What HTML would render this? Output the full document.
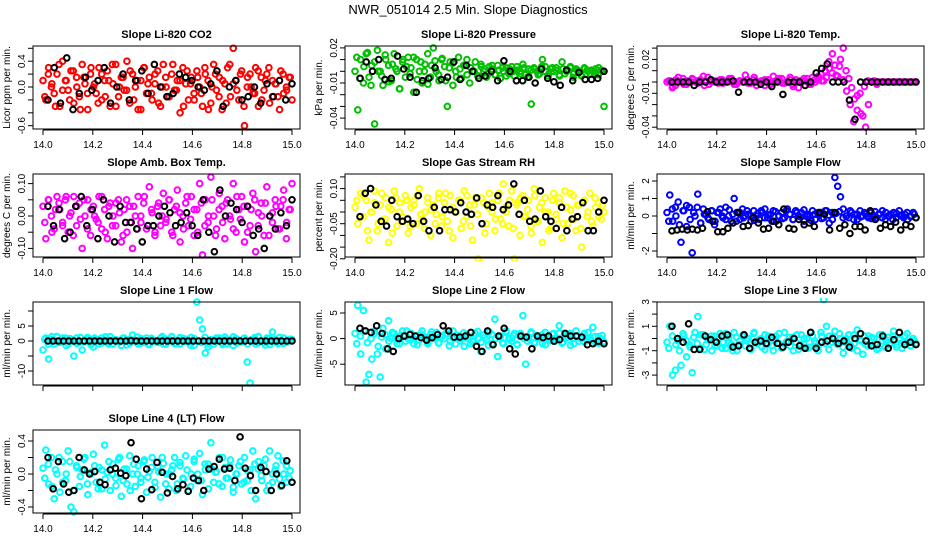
<!DOCTYPE html>
<html><head><meta charset="utf-8">
<style>
html,body{margin:0;padding:0;background:#fff;}
svg{display:block;font-family:"Liberation Sans",sans-serif;}
</style></head>
<body>
<svg id="chart" width="936" height="540" viewBox="0 0 936 540" xmlns="http://www.w3.org/2000/svg">
<rect x="0" y="0" width="936" height="540" fill="#fff"/>
<text x="468" y="14" font-size="13" text-anchor="middle">NWR_051014  2.5 Min. Slope Diagnostics</text>
</svg>
<script>
// x axis (time) ticks
const xTicks = [14.0, 14.2, 14.4, 14.6, 14.8, 15.0];
const xTickLabels = ["14.0", "14.2", "14.4", "14.6", "14.8", "15.0"];

// Panel 1: Li-820 CO2
const co2Color = [0.1,-0.2,0.3,0.0,-0.1,0.2,-0.3,0.4,0.1,-0.05,0.25,-0.25,0.15,-0.15,0.35,0.05,-0.35,0.2,0.0,-0.1,0.3,-0.2,0.1,0.25,-0.3,0.05,0.35,-0.15,0.15,-0.05,0.4,-0.25,0.2,0.0,-0.35,0.1,0.3,-0.1,0.15,-0.2,0.05,0.25,-0.3,0.35,0.0,-0.15,0.2,-0.05,0.1,-0.4,0.3,0.05,-0.2,0.15,-0.1,0.25,0.0,-0.3,0.2,0.1,-0.25,0.35,-0.05,0.15,-0.35,0.05,0.3,-0.15,0.6,0.1,-0.2,0.25,-0.6,0.0,0.2,-0.1,0.3,-0.3,0.15,-0.05,0.2,-0.25,0.1,0.05,-0.15,0.25,-0.1,0.0,0.15,-0.2];
const co2Color2 = [-0.15,0.2,0.05,-0.3,0.35,-0.05,0.1,-0.2,0.25,0.0,-0.35,0.15,-0.1,0.3,0.05,-0.25,0.2,-0.15,0.1,0.35,-0.3,0.0,0.15,-0.05,0.25,-0.2,0.1,-0.35,0.3,0.05,-0.1,0.2,-0.25,0.0,0.15,-0.15,0.35,-0.05,0.1,-0.3,0.25,0.05,-0.2,0.15,-0.1,0.3,-0.35,0.0,0.2,-0.15,0.1,-0.25,0.35,0.05,-0.05,0.2,-0.3,0.15,0.0,-0.1,0.25,-0.2,0.1,0.3,-0.15,0.05,-0.35,0.2,-0.05,0.15];
const co2Black = [-0.2,0.3,-0.25,0.45,-0.35,-0.1,0.15,-0.05,0.1,0.3,-0.25,0.0,0.2,-0.2,0.1,0.25,-0.1,0.35,0.0,-0.15,-0.1,0.2,0.15,0.1,0.0,-0.05,0.05,0.25,-0.3,0.0,0.1,-0.2,-0.15,0.0,-0.25,0.05,-0.15,0.1,-0.2,0.05];
const co2Ticks = [0.6,0.4,0.2,0.0,-0.2,-0.4,-0.6];
const co2Labels = [[0.4,"0.4"],[0.0,"0.0"],[-0.6,"-0.6"]];

// Panel 2: Li-820 Pressure
const presColor = [0.0,-0.033,0.01,-0.01,0.015,-0.005,0.005,-0.045,0.018,0.0,-0.012,0.01,0.005,-0.008,0.015,0.0,-0.015,0.008,-0.005,0.012,0.003,-0.018,0.01,0.0,-0.01,0.006,0.015,-0.005,0.02,0.0,-0.008,0.01,0.004,-0.03,0.008,-0.012,0.0,0.012,-0.006,0.005,0.01,-0.01,0.0,0.008,-0.004,0.006,0.0,-0.005,0.004,0.002,-0.003,0.005,-0.006,0.0,0.003,-0.002,0.004,-0.004,0.001,0.0,0.006,-0.003,0.002,-0.028,0.003,0.0,-0.002,0.01,0.004,-0.004,0.002,0.0,0.003,-0.003,0.008,-0.002,0.001,0.004,-0.005,0.002,0.0,-0.004,0.003,0.001,-0.002,0.0,0.002,-0.003,0.001,-0.03];
const presColor2 = [0.012,-0.006,0.004,0.016,-0.012,0.008,0.0,-0.004,0.014,-0.009,0.006,0.002,-0.015,0.01,0.004,-0.002,0.012,-0.007,0.008,0.0,-0.011,0.005,0.009,-0.003,0.011,-0.008,0.003,0.007,-0.005,0.002,0.005,-0.003,0.003,0.0,-0.004,0.004,0.002,-0.002,0.005,-0.003,0.001,0.003,-0.004,0.002,0.0,0.004,-0.002,0.003,-0.005,0.001,0.002,-0.003,0.004,0.0,-0.002,0.003,0.001,-0.004,0.002,0.0,0.003,-0.002,0.001,-0.003,0.002,0.0,0.001,-0.002,0.003,0.0];
const presBlack = [-0.006,0.008,0.0,0.01,-0.007,-0.006,0.013,0.002,-0.005,-0.018,-0.008,-0.006,0.003,-0.007,-0.005,0.008,-0.007,0.005,0.0,-0.006,-0.004,0.0,-0.008,0.009,0.0,-0.008,-0.008,-0.005,-0.01,0.002,-0.006,-0.009,-0.012,0.001,-0.008,-0.001,-0.007,-0.007,-0.006,0.0];
const presTicks = [0.02,0.01,0.0,-0.01,-0.02,-0.03,-0.04];
const presLabels = [[0.02,"0.02"],[-0.01,"-0.01"],[-0.04,"-0.04"]];

// Panel 3: Li-820 Temp
const tempColor = [0,0.001,-0.004,-0.003,0.004,0,-0.002,0.001,0,0.003,0,-0.001,0.002,0.005,0,-0.002,0.001,0,0,0.002,-0.001,0,0.001,0.003,-0.002,0,0.001,0,0.006,-0.001,0,0.002,-0.003,0,0.001,0.002,0,-0.002,0.005,0,0.001,0.003,-0.001,0,0.004,-0.002,0.002,-0.005,0,0.001,0.003,-0.002,0.004,0,0.002,0.007,0.001,0.004,0.012,0.008,0.015,0.005,0.02,0.03,0.01,0.003,-0.005,-0.015,-0.025,-0.01,-0.03,-0.04,-0.02,0.0,0.001,-0.002,0,0,0,0,0,0,0,0,0,0,0,0,0,0];
const tempColor2 = [0.001,-0.005,0.002,0,0.003,-0.002,0,0.002,0.001,0,-0.003,0.004,0,0.001,-0.001,0.002,0,0.003,0,-0.002,0.001,0,0.002,-0.001,0.004,0,0.001,-0.003,0.002,0,0.001,0.003,-0.001,0,0.002,-0.004,0,0.001,0.003,0,-0.002,0.002,0.005,0.001,0.01,0.018,0.025,0.006,0.014,0.002,-0.008,-0.02,-0.035,-0.012,-0.028,-0.004,0.001,0,0,0,0,0,0,0,0,0,0,0,0,0];
const tempBlack = [0,0,0,0,-0.003,0,0,0.002,0,0,0,0.001,-0.009,0,0,0,-0.002,0,-0.004,0,-0.011,0,0,0,-0.003,0,0.008,0.012,0.016,0,0,0,-0.016,-0.033,0,0,0,0,0,0,0,0,0,0,0];
const tempTicks = [0.03,0.02,0.01,0.0,-0.01,-0.02,-0.03,-0.04];
const tempLabels = [[0.02,"0.02"],[-0.01,"-0.01"],[-0.04,"-0.04"]];

// Panel 4: Amb. Box Temp
const boxColor = [0.03,-0.07,0.05,0.0,-0.04,0.06,0.02,-0.02,0.05,-0.05,0.01,0.06,-0.03,0.04,-0.1,0.0,0.05,-0.06,0.03,-0.01,0.06,-0.04,0.02,-0.07,0.04,0.0,-0.03,0.05,-0.08,0.02,-0.05,0.03,-0.1,0.0,0.06,-0.02,0.04,-0.04,0.09,0.01,-0.06,0.03,-0.03,0.07,-0.01,0.05,-0.05,0.02,0.08,-0.08,0.0,0.04,-0.03,0.06,-0.06,0.02,0.1,-0.12,0.05,-0.02,0.12,0.0,-0.04,0.07,0.03,-0.07,0.05,-0.01,0.1,-0.05,0.02,0.06,-0.08,0.03,-0.03,0.07,-0.11,0.01,0.04,-0.06,0.09,0.0,-0.02,0.05,-0.04,0.03,0.08,-0.07,0.02,0.1];
const boxColor2 = [-0.02,0.05,-0.05,0.02,0.04,-0.03,0.06,0.0,-0.06,0.03,-0.01,0.05,-0.04,0.02,0.0,-0.02,0.06,-0.05,0.03,-0.03,0.04,0.01,-0.06,0.05,-0.02,0.03,-0.04,0.0,0.06,-0.03,0.02,-0.05,0.04,0.0,-0.02,0.05,-0.06,0.03,0.01,-0.04,0.06,-0.01,0.02,-0.05,0.04,-0.03,0.0,0.05,-0.06,0.02,-0.02,0.04,0.0,-0.04,0.06,-0.01,0.03,-0.05,0.02,0.05,-0.03,0.0,0.04,-0.06,0.01,0.03,-0.04,0.05,-0.02,0.02];
const boxBlack = [0.03,-0.03,0.02,-0.07,-0.05,0.03,0.06,-0.03,0.02,-0.07,0.05,0.0,-0.08,0.03,-0.02,-0.02,-0.04,-0.08,-0.03,-0.03,0.0,0.03,0.01,-0.03,-0.02,0.01,-0.03,-0.06,0.05,-0.05,-0.11,0.08,0.0,0.04,0.02,-0.02,0.03,-0.06,-0.04,-0.1,0.0,-0.04,0.01,-0.03,0.05];
const boxTicks = [0.10,0.05,0.0,-0.05,-0.10];
const boxLabels = [[0.10,"0.10"],[0.0,"0.00"],[-0.10,"-0.10"]];

// Panel 5: Gas Stream RH
const rhColor = [0.02,-0.05,0.08,-0.02,0.05,-0.12,0.0,0.09,-0.08,0.03,-0.04,0.06,-0.13,0.01,0.09,-0.06,0.04,-0.02,0.07,-0.09,0.02,0.05,-0.05,0.1,-0.03,0.0,0.06,-0.1,0.03,-0.01,0.08,-0.06,0.04,-0.04,0.07,-0.11,0.0,0.05,-0.07,0.09,-0.02,0.03,-0.12,0.06,-0.2,-0.22,0.04,-0.05,0.08,0.0,-0.08,0.05,-0.03,0.12,0.02,-0.06,0.09,-0.2,0.04,-0.1,0.07,-0.02,0.05,-0.09,0.1,-0.04,0.02,-0.13,0.06,0.0,-0.07,0.08,-0.03,0.04,-0.11,0.09,-0.05,0.01,0.07,-0.08,0.03,-0.15,0.05,-0.02,0.08,-0.06,0.02,0.04,-0.03,0.0];
const rhColor2 = [0.05,-0.02,0.07,-0.08,0.0,0.04,-0.05,0.08,-0.03,0.02,-0.09,0.06,0.0,-0.04,0.05,-0.06,0.03,0.07,-0.01,-0.07,0.04,0.01,-0.05,0.06,-0.02,0.08,-0.08,0.02,0.0,0.05,-0.04,0.07,-0.06,0.03,-0.01,0.06,-0.09,0.02,0.04,-0.03,0.08,-0.05,0.0,0.05,-0.07,0.03,0.06,-0.02,0.01,-0.06,0.07,-0.04,0.04,0.0,-0.08,0.05,-0.01,0.06,-0.05,0.02,0.08,-0.03,0.03,-0.07,0.05,0.0,-0.04,0.06,-0.02,0.03];
const rhBlack = [-0.02,0.08,0.1,0.03,-0.04,-0.06,0.05,-0.02,-0.04,-0.03,-0.05,0.07,-0.04,-0.08,0.02,-0.08,0.01,0.01,0.0,0.04,0.0,-0.01,0.06,-0.05,0.03,0.02,0.07,0.01,0.03,0.12,-0.01,0.05,-0.04,-0.03,0.09,-0.02,-0.04,-0.07,0.02,-0.08,-0.03,-0.02,0.04,-0.08,-0.08,0.0,0.05];
const rhTicks = [0.15,0.10,0.05,0.0,-0.05,-0.10,-0.15,-0.20];
const rhLabels = [[0.10,"0.10"],[-0.05,"-0.05"],[-0.20,"-0.20"]];

// Panel 6: Sample Flow
const sampColor = [0.2,1.2,-0.3,0.5,0.8,-1.5,0.3,-0.6,0.5,-2.1,0.0,1.25,-0.4,0.4,0.1,-0.2,0.3,-0.5,0.2,0.4,-0.1,0.5,0.0,-0.3,1.0,0.2,-0.2,0.4,0.0,0.1,-0.3,0.3,0.0,-0.2,0.2,0.4,-0.1,0.1,0.3,-0.3,0.0,0.2,-0.1,0.4,0.1,-0.2,0.3,0.0,0.2,-0.3,0.1,0.0,0.3,-0.2,0.1,0.2,-0.1,0.3,-0.4,0.2,2.2,1.7,1.1,0.4,0.0,-0.1,0.2,0.1,-0.2,0.3,0.0,0.1,-0.1,0.2,0.0,-0.1,0.1,0.3,-0.2,0.0,0.1,0.2,-0.1,0.3,0.0,0.1,-0.2,0.0,0.2,-0.1];
const sampColor2 = [-0.3,0.4,0.0,-0.5,0.3,0.6,-0.2,0.2,0.5,-0.4,0.1,-0.1,0.3,-0.3,0.2,0.0,-0.2,0.35,0.1,-0.3,0.2,-0.1,0.3,0.0,-0.25,0.15,0.3,-0.1,0.05,-0.3,0.25,0.0,-0.15,0.3,0.1,-0.2,0.2,-0.05,0.35,0.0,-0.25,0.1,0.2,-0.15,0.3,0.05,-0.2,0.15,0.25,-0.1,0.0,0.3,-0.2,0.1,-0.05,0.2,0.0,-0.15,0.25,0.1,-0.1,0.2,0.0,-0.2,0.15,0.05,-0.1,0.2,-0.05,0.1];
const sampBlack = [-0.85,-0.8,-0.75,-0.8,-0.75,-0.8,-0.7,0.25,-0.3,-0.9,-0.9,-0.7,-0.4,0.2,-0.6,-0.55,-0.1,-0.4,-0.75,-0.7,-0.3,-0.5,0.4,-0.7,-0.75,-0.2,-0.5,-0.4,-0.6,0.2,0.1,-0.8,0.2,-0.7,-0.5,-1.0,-0.6,-0.6,-0.8,0.3,-0.2,-0.7,-0.5,-0.6,-0.35,-0.8,-0.5,-0.6,-0.1];
const sampTicks = [2,1,0,-1,-2];
const sampLabels = [[2,"2"],[1,"1"],[0,"0"],[-2,"-2"]];

// Panel 7: Line 1 Flow
const l1Color = [-3,1,-6,0.5,-1,1.5,-0.5,0,1,-1,0.5,-5,1,-0.5,-3,0,1.2,-0.8,-2,0.5,-1,1,0,-0.5,1.5,-1,0.5,0,-1.5,1,0.3,-0.7,2,0,-1,0.8,-0.3,1,-1.2,0.5,0,-0.5,1,-1,0.6,0,1.5,-0.8,0.2,-1,0.9,0,-0.4,1.2,-1.5,13,7,4,-4,-2,0.5,-1,1,0,-0.6,1.3,-0.9,0.4,-1.5,0.8,0,-0.3,1,-7,-14,0.5,-1,1.5,0,-0.5,1,-1.2,3,0.6,-0.8,0.2,1,-0.4,0,0.5];
const l1Color2 = [0.5,-1,1.5,0,-0.5,1,-1.5,0.8,0,-0.8,1.2,-0.3,0.5,-1.2,1,0,-0.6,1.4,-1,0.3,0,-0.4,1,-1.3,0.6,0,1.3,-0.7,0.2,-1,0.9,0,-0.5,1.5,-1.1,0.4,0,-0.8,1.1,-0.2,0.6,-1.4,0.8,0,-0.5,1.2,-0.9,0.3,0,1,-1.2,0.5,-0.3,1.4,-0.7,0,0.8,-1,0.4,1.1,-0.6,0,-1.3,0.9,0.2,-0.4,1.2,-0.8,0,0.6];
const l1Black = [0,0,0,0,0,0,0,0,0,0,0,0,0,0,0,0,0.1,0,0,0,0,0,0,0,0,0,0,0,0,0,0,0,0,0,0,0,0,0,0,0,0,0,0,0,0,0,0,0];
const l1Ticks = [10,5,0,-5,-10];
const l1Labels = [[5,"5"],[0,"0"],[-10,"-10"]];

// Panel 8: Line 2 Flow
const l2Color = [1,6.5,-3,5.5,-8.5,-7,-4,1.5,-3,-7.5,2,-2,3.5,0,1,-1,0.5,1.5,-0.5,0,1,-1,0.5,-0.3,1.5,0,-1,0.8,0,1.2,-0.8,0.4,0,1,-0.5,1.5,-1,0.3,0,-1.5,0.8,0.3,-0.6,1,0,-2.5,0.7,-0.2,1.3,-1,3.8,-3.5,0.5,-1,1.5,0,-0.5,1,-1.2,0.4,4.5,-5,0,1,-0.8,0.6,0,-1,1.2,0.3,-0.4,1,0,2.5,-0.9,0.5,0.8,-1.3,0,1.5,-0.5,0.2,1,-0.3,0,2.2,-0.8,0.4,0,-0.6];
const l2Color2 = [-1,0.5,1.5,-0.8,0,1,-1.5,0.3,0.8,-0.5,1.2,0,-1,0.6,1.5,-0.3,0,-1.2,0.9,0.4,-0.6,1.3,0,-0.9,0.5,1,-1.4,0.2,0.7,-0.4,1.1,0,-1,0.5,1.4,-0.7,0.2,-1.3,0.8,0,0.4,-0.8,1.2,-0.2,0.6,-1.1,1,0,-0.5,1.3,-0.9,0.3,0.7,-1.2,0,0.9,-0.4,1.1,-0.7,0.2,1,-1,0.5,0,-0.6,1.2,-0.3,0.4,-0.9,0.6];
const l2Black = [2,1.5,1.2,2.5,1,-2,-2.5,0,0.5,0.8,0.5,0.2,-0.3,0.2,0.8,2.5,1.5,0.3,0.3,0.5,1.2,-1.5,-2.5,1.5,-1.2,0.5,2,-2,-3,0.5,0.3,-2,0.5,0.2,0.5,-0.5,-0.2,1,0.5,0.5,0.3,-1.2,-1,-0.5,-1];
const l2Ticks = [5,0,-5];
const l2Labels = [[5,"5"],[0,"0"],[-5,"-5"]];

// Panel 9: Line 3 Flow
const l3Color = [-0.3,1.0,-3,-2.6,-0.2,-2.2,0.2,-1.5,-0.5,-2.8,0.5,1.8,-0.8,0.3,-0.5,0,-1,0.2,-0.6,0.4,-0.3,-0.8,0.1,-0.5,0.5,-1,-0.2,0.2,-0.6,0,-0.9,0.4,-0.4,-0.1,-0.7,0.3,-0.5,0,-1,0.2,-0.4,-0.8,0.5,-0.2,-0.6,0.1,-0.3,-0.9,0.3,-0.5,0,-0.7,0.2,-0.4,-1,0.5,3.2,1,0.2,-0.3,0.6,-0.5,0,-1.2,-0.2,0.3,-0.8,-0.4,0.7,-0.1,-1.3,-0.5,0.2,-0.6,0,-0.9,0.3,-0.2,-0.7,0.1,-0.4,0.6,-0.5,-0.1,-0.8,0.2,-0.3,-0.6,0,-0.4];
const l3Color2 = [-0.8,0.2,-0.5,-1,0.4,-0.2,-0.7,0.1,-0.4,0.3,-0.9,-0.1,0.2,-0.6,0,-0.8,0.4,-0.3,-1,0.1,-0.5,0.3,-0.2,-0.8,0.5,-0.4,0,-0.9,0.2,-0.6,-0.1,0.4,-0.7,-0.3,0.1,-1,0.3,-0.5,0,-0.8,0.5,-0.2,-0.6,0.2,-0.4,-0.9,0.1,-0.3,0.4,-0.7,0,-0.5,0.3,-1,-0.2,0.2,-0.6,0.1,-0.4,-0.8,0.3,-0.1,-0.5,0.2,-0.7,0,-0.3,0.4,-0.6,-0.2];
const l3Black = [1,0.0,-0.3,1.2,-0.9,-0.9,0.2,-0.1,-0.3,0.2,0.3,-0.7,-0.6,0.3,-0.8,-0.3,-0.2,-0.4,0.1,-0.4,-0.7,-0.3,0.0,-0.6,-0.8,0.5,-0.8,-0.3,-0.2,0.0,-0.4,-0.2,-0.7,0.0,0.4,-0.2,-0.6,-0.5,0.2,-0.8,-0.1,0.5,-0.5,-0.3,-0.5];
const l3Ticks = [3,2,1,0,-1,-2,-3];
const l3Labels = [[3,"3"],[1,"1"],[-1,"-1"],[-3,"-3"]];

// Panel 10: Line 4 (LT) Flow
const l4Color = [0.07,0.29,-0.12,0.2,-0.3,0.0,-0.22,0.15,-0.08,0.28,-0.4,-0.46,0.1,-0.15,0.05,0.2,-0.25,0.0,0.24,-0.1,0.08,-0.18,0.35,0.02,-0.2,0.12,-0.05,0.18,-0.27,0.06,-0.12,0.22,0.0,-0.15,0.1,-0.05,0.15,-0.22,0.03,0.2,-0.1,0.08,-0.28,0.13,0.0,-0.18,0.05,0.2,-0.12,0.1,-0.05,0.22,-0.2,0.0,0.15,-0.08,0.25,-0.25,0.05,0.12,0.38,-0.1,0.03,0.2,-0.15,0.08,-0.05,0.17,-0.22,0.0,0.1,-0.12,0.2,-0.08,0.05,0.28,-0.3,0.15,-0.02,0.1,-0.2,0.28,-0.1,0.05,0.22,-0.15,0.0,0.1,-0.05,-0.1];
const l4Color2 = [-0.05,0.12,-0.15,0.05,0.2,-0.1,0.0,0.15,-0.2,0.08,-0.03,0.18,-0.12,0.02,0.1,-0.18,0.05,-0.06,0.15,0.0,-0.14,0.2,-0.08,0.06,-0.2,0.12,0.0,-0.1,0.17,-0.04,0.08,-0.16,0.03,0.2,-0.12,0.0,0.1,-0.2,0.14,-0.06,0.05,-0.15,0.18,0.0,-0.08,0.12,-0.18,0.06,0.02,-0.12,0.2,-0.05,0.1,-0.16,0.0,0.15,-0.1,0.04,-0.2,0.12,0.06,-0.08,0.18,-0.14,0.0,0.1,-0.06,0.16,-0.1,0.04];
const l4Black = [0.2,-0.18,0.15,-0.12,-0.22,-0.2,0.2,0.05,0.0,0.03,-0.1,-0.13,0.05,0.07,0.01,-0.02,0.38,0.18,-0.3,0.06,-0.19,0.14,0.02,-0.23,-0.03,-0.18,-0.13,-0.21,-0.05,-0.08,-0.2,0.06,0.09,0.18,0.06,0.07,-0.08,0.45,0.07,-0.02,-0.2,0.08,0.03,-0.2,0.0,-0.14,0.16,-0.1];
const l4Ticks = [0.4,0.2,0.0,-0.2,-0.4];
const l4Labels = [[0.4,"0.4"],[0.0,"0.0"],[-0.4,"-0.4"]];

const NS = "http://www.w3.org/2000/svg";
const svg = document.getElementById("chart");
function mk(tag, attrs, parent){
  const e = document.createElementNS(NS, tag);
  for (const k in attrs) e.setAttribute(k, attrs[k]);
  (parent||svg).appendChild(e);
  return e;
}

const panels = [
  {key:"co2", title:"Slope Li-820 CO2", ylab:"Licor ppm per min.", color:"#ff0000", col:0,row:0, zero:41, step:0.2, stepPx:12.9, colorVals:co2Color, colorVals2:co2Color2, blackVals:co2Black, ticks:co2Ticks, labels:co2Labels, xl:true},
  {key:"pressure", title:"Slope Li-820 Pressure", ylab:"kPa per min.", color:"#00c000", col:1,row:0, zero:25.3, step:0.01, stepPx:11.7, colorVals:presColor, colorVals2:presColor2, blackVals:presBlack, ticks:presTicks, labels:presLabels, xl:true},
  {key:"temp", title:"Slope Li-820 Temp.", ylab:"degrees C per min.", color:"#ff00ff", col:2,row:0, zero:36, step:0.01, stepPx:11.3, colorVals:tempColor, colorVals2:tempColor2, blackVals:tempBlack, ticks:tempTicks, labels:tempLabels, xl:true},
  {key:"box-temp", title:"Slope Amb. Box Temp.", ylab:"degrees C per min.", color:"#ff00ff", col:0,row:1, zero:42, step:0.05, stepPx:16.2, colorVals:boxColor, colorVals2:boxColor2, blackVals:boxBlack, ticks:boxTicks, labels:boxLabels, xl:true},
  {key:"rh", title:"Slope Gas Stream RH", ylab:"percent per min.", color:"#ffff00", col:1,row:1, zero:38, step:0.05, stepPx:11.7, colorVals:rhColor, colorVals2:rhColor2, blackVals:rhBlack, ticks:rhTicks, labels:rhLabels, xl:true},
  {key:"sample-flow", title:"Slope Sample Flow", ylab:"ml/min per min.", color:"#0000ff", col:2,row:1, zero:42, step:1, stepPx:17.5, colorVals:sampColor, colorVals2:sampColor2, blackVals:sampBlack, ticks:sampTicks, labels:sampLabels, xl:true},
  {key:"line1", title:"Slope Line 1 Flow", ylab:"ml/min per min.", color:"#00ffff", col:0,row:2, zero:39, step:5, stepPx:15, colorVals:l1Color, colorVals2:l1Color2, blackVals:l1Black, ticks:l1Ticks, labels:l1Labels, xl:false},
  {key:"line2", title:"Slope Line 2 Flow", ylab:"ml/min per min.", color:"#00ffff", col:1,row:2, zero:36.6, step:5, stepPx:25.6, colorVals:l2Color, colorVals2:l2Color2, blackVals:l2Black, ticks:l2Ticks, labels:l2Labels, xl:false},
  {key:"line3", title:"Slope Line 3 Flow", ylab:"ml/min per min.", color:"#00ffff", col:2,row:2, zero:36.5, step:1, stepPx:12.2, colorVals:l3Color, colorVals2:l3Color2, blackVals:l3Black, ticks:l3Ticks, labels:l3Labels, xl:false},
  {key:"line4", title:"Slope Line 4 (LT) Flow", ylab:"ml/min per min.", color:"#00ffff", col:0,row:3, zero:44, step:0.1, stepPx:8.25, colorVals:l4Color, colorVals2:l4Color2, blackVals:l4Black, ticks:l4Ticks, labels:l4Labels, xl:true}
];

panels.forEach(p => {
  const left = 33 + p.col*312, right = left + 267;
  const top = 46 + p.row*128, bottom = top + 83;
  const g = mk("g", {});
  
  
  const xs = v => left + 10 + (v - 14.0) * 249;
  const ys = v => top + p.zero - (v / p.step) * p.stepPx;
  const clipId = "clip-" + p.key;
  const cp = mk("clipPath", {id: clipId}, g);
  mk("rect", {x:left-4, y:top-4, width:275, height:91}, cp);

  const t = mk("text", {x:(left+right)/2, y:top-8, "font-size":"11", "font-weight":"bold", "text-anchor":"middle"}, g);
  t.textContent = p.title;
  
  

  const yl = mk("text", {x:0, y:0, "font-size":"10", "text-anchor":"middle", transform:`translate(${left-23},${(top+bottom)/2}) rotate(-90)`}, g);
  yl.textContent = p.ylab;
  
  

  const pts = mk("g", {"clip-path":`url(#${clipId})`, fill:"none", "stroke-width":"2"}, g);
  const n1 = p.colorVals.length;
  p.colorVals.forEach((v, i) => {
    const c = mk("circle", {cx: xs(14 + i/(n1-1)), cy: ys(v), r: 2.8, stroke: p.color}, pts);
    
    
  });
  const n3 = p.colorVals2.length;
  p.colorVals2.forEach((v, i) => {
    const c = mk("circle", {cx: xs(14 + (i+0.5)/n3), cy: ys(v), r: 2.8, stroke: p.color}, pts);
    
    
  });
  const n2 = p.blackVals.length;
  p.blackVals.forEach((v, i) => {
    const c = mk("circle", {cx: xs(14.02 + 0.98*i/(n2-1)), cy: ys(v), r: 2.8, stroke: "#000"}, pts);
    
    
  });

  const box = mk("rect", {x:left, y:top, width:right-left, height:bottom-top, fill:"none", stroke:"#000", "stroke-width":"1"}, g);
  
  

  // y axis
  const ya = mk("g", {stroke:"#000"}, g);
  
  
  const yT = p.ticks.map(ys);
  mk("line", {x1:left, x2:left, y1:Math.min(...yT), y2:Math.max(...yT)}, ya);
  p.ticks.forEach(v => mk("line", {x1:left-5, x2:left, y1:ys(v), y2:ys(v)}, ya));
  p.labels.forEach(([v, s]) => {
    const tx = mk("text", {x:0, y:0, "font-size":"10", "text-anchor":"middle", stroke:"none", transform:`translate(${left-8},${ys(v)}) rotate(-90)`}, ya);
    tx.textContent = s;
    
    
  });

  // x axis
  const xa = mk("g", {stroke:"#000"}, g);
  
  
  mk("line", {x1:xs(xTicks[0]), x2:xs(xTicks[xTicks.length-1]), y1:bottom+1, y2:bottom+1}, xa);
  xTicks.forEach((v, i) => {
    mk("line", {x1:xs(v), x2:xs(v), y1:bottom+1, y2:bottom+6}, xa);
    if (p.xl) {
      const tx = mk("text", {x:xs(v), y:bottom+19, "font-size":"10", "text-anchor":"middle", stroke:"none"}, xa);
      tx.textContent = xTickLabels[i];
      
      
    }
  });
});
</script>
</body></html>
